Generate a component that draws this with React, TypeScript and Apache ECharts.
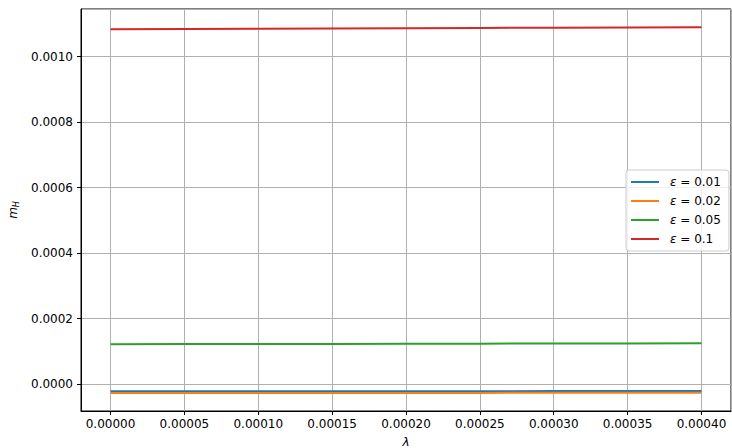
import React, { useEffect, useRef } from "react";
import * as echarts from "echarts";

const lambdaValues = [0, 0.00005, 0.0001, 0.00015, 0.0002, 0.00025, 0.0003, 0.00035, 0.0004];
const seriesNames = ["0.01", "0.02", "0.05", "0.1"];
const eps001 = [-0.0000215, -0.0000214, -0.0000213, -0.0000212, -0.0000211, -0.000021, -0.0000209, -0.0000208, -0.0000207];
const eps002 = [-0.0000266, -0.0000265, -0.0000265, -0.0000264, -0.0000263, -0.0000263, -0.0000262, -0.0000261, -0.000026];
const eps005 = [0.0001222, 0.0001225, 0.0001229, 0.0001232, 0.0001236, 0.0001239, 0.0001243, 0.0001246, 0.000125];
const eps01 = [0.0010835, 0.0010842, 0.001085, 0.0010857, 0.0010865, 0.0010872, 0.001088, 0.0010887, 0.0010895];
const colors = ["#1f77b4", "#ff7f0e", "#2ca02c", "#d62728"];
const allSeries = [eps001, eps002, eps005, eps01];

const FONT = "DejaVu Sans";

export default function App() {
  const ref = useRef<HTMLDivElement>(null);
  useEffect(() => {
    if (!ref.current) return;
    const chart = echarts.init(ref.current, undefined, { renderer: "svg" });
    const isMult = (v: number, step: number) => Math.abs(v / step - Math.round(v / step)) < 1e-6;
    chart.setOption({
      animation: false,
      textStyle: { fontFamily: FONT },
      grid: {
        left: 81,
        right: 1,
        top: 9,
        bottom: 37,
        containLabel: false,
        outerBoundsMode: "none",
        show: true,
        borderColor: "#000",
        borderWidth: 1,
      },
      legend: {
        orient: "vertical",
        left: 626,
        top: 170,
        padding: [6, 8, 6, 5],
        itemGap: 7,
        itemWidth: 28,
        itemHeight: 2,
        icon: "rect",
        borderColor: "#cccccc",
        borderWidth: 1,
        borderRadius: 3,
        backgroundColor: "rgba(255,255,255,0.8)",
        data: seriesNames.map((n) => ({ name: n, icon: "rect" })),
        formatter: (n: string) => "{e|ε} = " + n,
        textStyle: {
          fontFamily: FONT,
          fontSize: 12,
          color: "#000",
          lineHeight: 12,
          padding: [0, 0, 0, 6],
          rich: {
            e: { fontFamily: FONT, fontStyle: "italic", fontSize: 12, color: "#000" },
          },
        },
      },
      xAxis: {
        type: "value",
        min: -0.00002,
        max: 0.00042,
        splitNumber: 8,
        name: "λ",
        nameLocation: "middle",
        nameGap: 25,
        nameTextStyle: { fontFamily: FONT, fontSize: 12, fontStyle: "italic", color: "#000" },
        axisLine: { show: true, onZero: false, lineStyle: { color: "#000", width: 1 } },
        axisTick: { show: true, length: 4, lineStyle: { color: "#000" } },
        axisLabel: {
          margin: 7,
          fontFamily: FONT,
          fontSize: 12,
          color: "#000",
          showMinLabel: false,
          showMaxLabel: false,
          formatter: (v: number) => (isMult(v, 0.00005) ? v.toFixed(5) : ""),
        },
        splitLine: { show: true, lineStyle: { color: "#b0b0b0", width: 1 } },
      },
      yAxis: {
        type: "value",
        min: -0.0000816,
        max: 0.001145,
        splitNumber: 5,
        name: "{m|m}{s|H}",
        nameLocation: "middle",
        nameGap: 60,
        nameRotate: 90,
        nameTextStyle: {
          color: "#000",
          rich: {
            m: { fontFamily: FONT, fontSize: 12, fontStyle: "italic", color: "#000" },
            s: { fontFamily: FONT, fontSize: 8, fontStyle: "italic", color: "#000", verticalAlign: "bottom", padding: [6, 0, 0, 0] },
          },
        },
        axisLine: { show: true, onZero: false, lineStyle: { color: "#000", width: 1 } },
        axisTick: { show: true, length: 4, lineStyle: { color: "#000" } },
        axisLabel: {
          margin: 8,
          fontFamily: FONT,
          fontSize: 12,
          color: "#000",
          showMinLabel: false,
          showMaxLabel: false,
          formatter: (v: number) => (isMult(v, 0.0002) ? v.toFixed(4) : ""),
        },
        splitLine: { show: true, lineStyle: { color: "#b0b0b0", width: 1 } },
      },
      series: allSeries.map((vals, i) => ({
        name: seriesNames[i],
        type: "line",
        data: lambdaValues.map((x, j) => [x, vals[j]]),
        showSymbol: false,
        symbol: "none",
        lineStyle: { color: colors[i], width: 2 },
        itemStyle: { color: colors[i] },
        color: colors[i],
      })),
    });
    return () => chart.dispose();
  }, []);
  return <div ref={ref} style={{ width: 732, height: 448, position: "absolute", left: 0, top: 0 }} />;
}
